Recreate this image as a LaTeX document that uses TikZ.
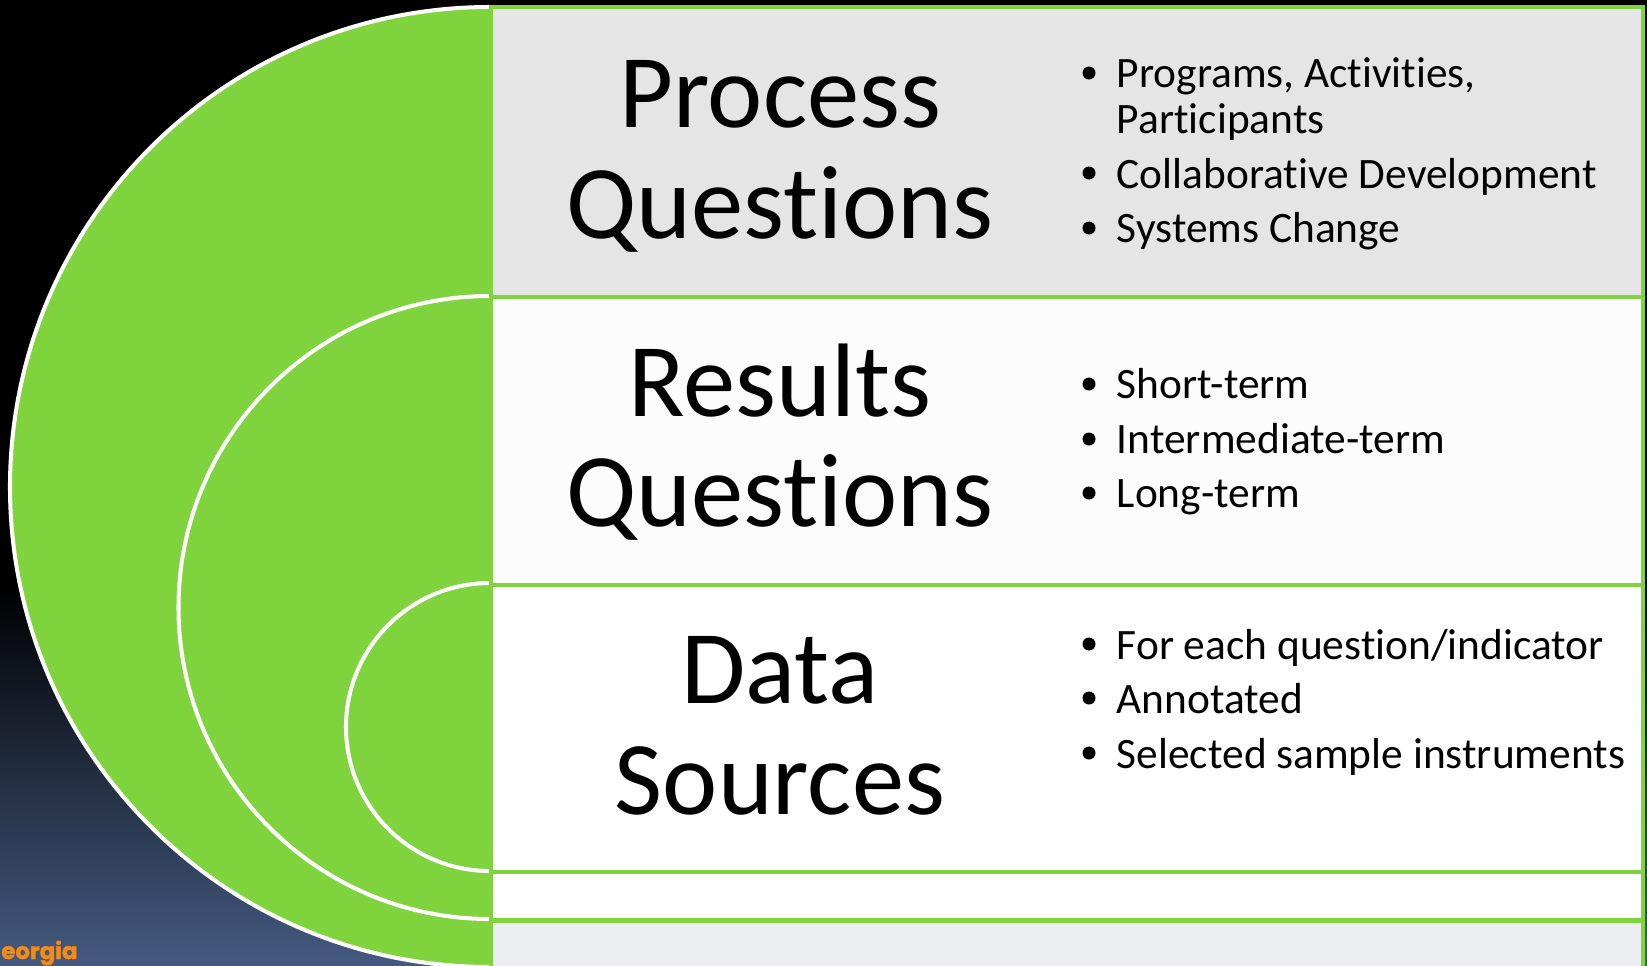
\documentclass[tikz,border=0pt]{standalone}
\usepackage{fontspec}
\setmainfont[Ligatures=NoCommon]{Carlito}
\newfontfamily\logofont[BoldFeatures={FakeBold=1.5}]{Poppins}
\definecolor{leafgreen}{HTML}{7FD33C}
\definecolor{nightblue}{HTML}{445A80}
\definecolor{logoorange}{HTML}{F68B12}
\definecolor{footgrey}{HTML}{ECEEF1}
\tikzset{
  rowbox/.style={draw=leafgreen,line width=2.3pt,minimum width=23.06cm,inner sep=0mm},
  arcband/.style={draw=white,line width=2.3pt},
  headtext/.style={inner sep=0mm,anchor=base,font=\fontsize{59.5}{60}\selectfont},
  itemtext/.style={inner sep=0mm,anchor=base west,font=\fontsize{24.7}{25}\selectfont},
  itemdot/.style={inner sep=0mm,circle,fill=black,minimum size=0.26cm}
}
\begin{document}
\begin{tikzpicture}[x=0.02cm,y=-0.02cm]
                \useasboundingbox (0,0) rectangle (1647,965);
                \clip (0,0) rectangle (1647,965);
                \fill[black] (0,0) rectangle (1647,585);
                \shade[top color=black,bottom color=nightblue] (0,584) rectangle (1647,965);
                \foreach \y/\r in {7/480, 296/311.5, 583/144} {
                \fill[leafgreen] (490,\y) arc (270:90:\r) -- cycle;
                \draw[arcband] (490,\y) arc (270:90:\r);
                }
                \foreach \y/\h/\n/\c in {152/290/rowprocess/black!10, 441/288/rowresults/black!1, 728.5/287/rowdata/white, 896/48/rowspare/white, 962.5/84/rowfoot/footgrey}
                \node[rowbox,fill=\c,minimum height=\h*0.02cm] (\n) at (1067,\y) {};
                \foreach \y/\n/\t in {127/hprocess/Process, 238/hquestions/Questions, 416/hresults/Results, 526/hquestionsb/Questions, 703/hdata/Data, 814/hsources/Sources}
                \node[headtext] (\n) at (780,\y) {\t};
                \foreach \y/\n/\t in {87/iprograms/{Programs, Activities,}, 133/iparticipants/Participants, 188/icollab/Collaborative Development, 242/isystems/Systems Change, 398/ishort/Short-term, 453/iinter/Intermediate-term, 507/ilong/Long-term, 659/ieach/{For each question/indicator}, 713/iannot/Annotated, 768/isample/Selected sample instruments}
                \node[itemtext] (\n) at (1116.5,\y) {\t};
                \foreach \y/\n in {73/dprograms, 173/dcollab, 228/dsystems, 384/dshort, 439/dinter, 493/dlong, 644/deach, 698/dannot, 753/dsample}
                \node[itemdot] (\n) at (1089,\y) {};
                \node[inner sep=0mm,anchor=base west,text=logoorange,font=\logofont\bfseries\fontsize{13}{13}\selectfont] (logo) at (1,959) {eorgia};
            \end{tikzpicture}
\end{document}
